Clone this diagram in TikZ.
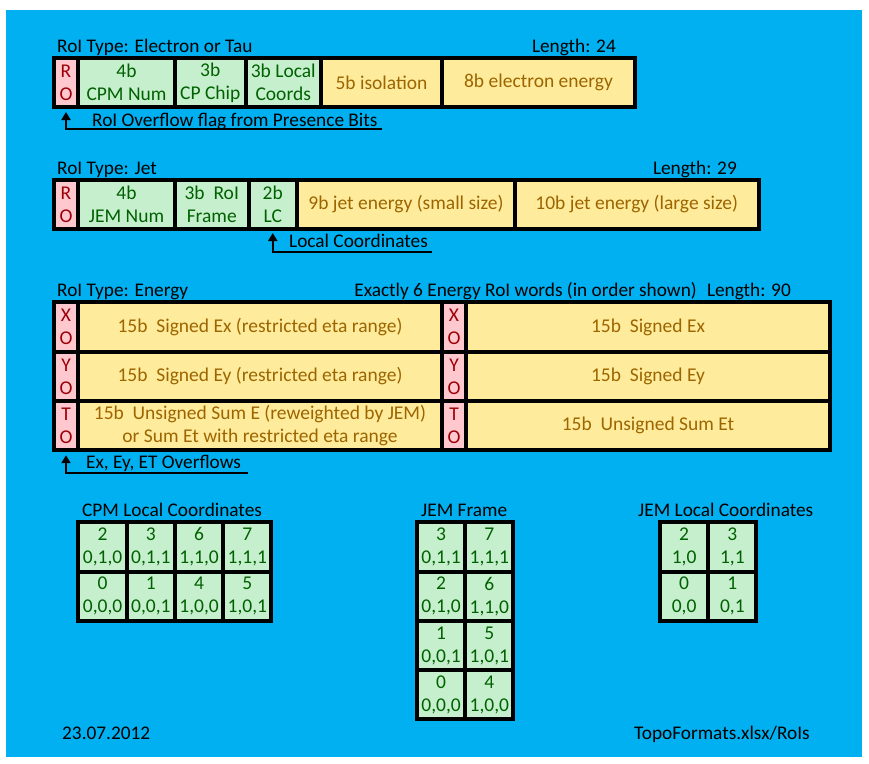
\documentclass[tikz,border=0pt]{standalone}
\usepackage{fontspec}
\setmainfont{Carlito}
\usetikzlibrary{positioning,arrows.meta}

\definecolor{slideblue}{HTML}{00B0F0}
\definecolor{goodfill}{HTML}{C6EFCE}
\definecolor{goodtext}{HTML}{006100}
\definecolor{neutfill}{HTML}{FFEB9C}
\definecolor{neuttext}{HTML}{9C6500}
\definecolor{badfill}{HTML}{FFC7CE}
\definecolor{badtext}{HTML}{9C0006}

\tikzset{
  cell/.style={draw=black, line width=4pt, inner sep=0pt, outer sep=0pt,
    minimum height=49pt, align=center, font=\fontsize{19.5}{23}\selectfont},
  ovfl/.style={cell, fill=badfill, text=badtext, minimum width=24pt},
  good/.style={cell, fill=goodfill, text=goodtext},
  neut/.style={cell, fill=neutfill, text=neuttext},
  bitcell/.style={good, minimum width=48.25pt, minimum height=49.25pt},
  lbl/.style={inner sep=0pt, anchor=base west, font=\fontsize{19.3}{22}\selectfont},
  hint/.style={line width=2pt, -{Triangle[width=9pt,length=8pt]}},
}

\begin{document}
\begin{tikzpicture}[x=1pt,y=-1pt]
  \useasboundingbox (0,0) rectangle (869,763);
  \fill[slideblue] (6,10) rectangle (862,757);

  % Electron / tau word
  \node[lbl] (emtitle) at (57,52) {RoI Type: Electron or Tau};
  \node[lbl, anchor=base east] (emlen) at (616,52) {Length: 24};
  \node[ovfl] (ro1) at (66,82.5) {R\\O};
  \node[good, minimum width=97pt, right=0pt of ro1] (cpmnum) {4b\\CPM Num};
  \node[good, minimum width=70.5pt, right=0pt of cpmnum] (cpchip) {3b\\CP Chip};
  \node[good, minimum width=75.5pt, right=0pt of cpchip] (emlc) {3b Local\\Coords};
  \node[neut, minimum width=121pt, right=0pt of emlc] (emiso) {5b isolation};
  \node[neut, minimum width=193pt, right=0pt of emiso] (emet) {8b electron energy};
  \node[lbl] (ovftxt) at (92,126) {RoI Overflow flag from Presence Bits};
  \coordinate (ovfend) at (382,129);
  \draw[hint, shorten >=5pt] (ovfend) -| (ro1.south);

  % Jet word
  \node[lbl] (jettitle) at (57,174) {RoI Type: Jet};
  \node[lbl, anchor=base east] (jetlen) at (737,174) {Length: 29};
  \node[ovfl] (ro2) at (66,204.5) {R\\O};
  \node[good, minimum width=97pt, right=0pt of ro2] (jemnum) {4b\\JEM Num};
  \node[good, minimum width=73.5pt, right=0pt of jemnum] (frame) {3b~~RoI\\Frame};
  \node[good, minimum width=48.5pt, right=0pt of frame] (jetlc) {2b\\LC};
  \node[neut, minimum width=218pt, right=0pt of jetlc] (small) {9b jet energy (small size)};
  \node[neut, minimum width=243.5pt, right=0pt of small] (large) {10b jet energy (large size)};
  \node[lbl] (lctxt) at (289,247) {Local Coordinates};
  \coordinate (lcend) at (432,252);
  \draw[hint, shorten >=4pt] (lcend) -| (jetlc.south);

  % Energy words
  \node[lbl] (entitle) at (57,296) {RoI Type: Energy};
  \node[lbl, anchor=base east] (ennote) at (697,296) {Exactly 6 Energy RoI words (in order shown)};
  \node[lbl, anchor=base east] (enlen) at (791,296) {Length: 90};
  \node[ovfl, minimum height=49.25pt] (xo1) at (66,327.1) {X\\O};
  \node[ovfl, minimum height=49.25pt, below=0pt of xo1] (yo1) {Y\\O};
  \node[ovfl, minimum height=49.25pt, below=0pt of yo1] (to1) {T\\O};
  \node[neut, minimum width=364pt, minimum height=49.25pt, right=0pt of xo1] (ex1) {15b~~Signed Ex (restricted eta range)};
  \node[neut, minimum width=364pt, minimum height=49.25pt, right=0pt of yo1] (ey1) {15b~~Signed Ey (restricted eta range)};
  \node[neut, minimum width=364pt, minimum height=49.25pt, right=0pt of to1] (et1) {15b~~Unsigned Sum E (reweighted by JEM)\\or Sum Et with restricted eta range};
  \node[ovfl, minimum height=49.25pt, right=0pt of ex1] (xo2) {X\\O};
  \node[ovfl, minimum height=49.25pt, right=0pt of ey1] (yo2) {Y\\O};
  \node[ovfl, minimum height=49.25pt, right=0pt of et1] (to2) {T\\O};
  \node[neut, minimum width=364pt, minimum height=49.25pt, right=0pt of xo2] (ex2) {15b~~Signed Ex};
  \node[neut, minimum width=364pt, minimum height=49.25pt, right=0pt of yo2] (ey2) {15b~~Signed Ey};
  \node[neut, minimum width=364pt, minimum height=49.25pt, right=0pt of to2] (et2) {15b~~Unsigned Sum Et};
  \node[lbl] (eotxt) at (86,468) {Ex, Ey, ET Overflows};
  \coordinate (eoend) at (248,473);
  \draw[hint, shorten >=5pt] (eoend) -| (to1.south);

  % CPM local coordinates
  \node[lbl] (cpmtitle) at (82,516) {CPM Local Coordinates};
  \foreach \col/\row/\num/\bits in {0/0/2/{0,1,0}, 1/0/3/{0,1,1}, 2/0/6/{1,1,0}, 3/0/7/{1,1,1},
                                    0/1/0/{0,0,0}, 1/1/1/{0,0,1}, 2/1/4/{1,0,0}, 3/1/5/{1,0,1}}
    \node[bitcell] (cpm-\col-\row) at ({102.6+48.25*\col},{547.1+49.25*\row}) {\num\\\bits};

  % JEM frame
  \node[lbl] (frtitle) at (421,516) {JEM Frame};
  \foreach \col/\row/\num/\bits in {0/0/3/{0,1,1}, 1/0/7/{1,1,1}, 0/1/2/{0,1,0}, 1/1/6/{1,1,0},
                                    0/2/1/{0,0,1}, 1/2/5/{1,0,1}, 0/3/0/{0,0,0}, 1/3/4/{1,0,0}}
    \node[bitcell] (fr-\col-\row) at ({441.1+48.25*\col},{547.1+49.25*\row}) {\num\\\bits};

  % JEM local coordinates
  \node[lbl] (jltitle) at (638,516) {JEM Local Coordinates};
  \foreach \col/\row/\num/\bits in {0/0/2/{1,0}, 1/0/3/{1,1}, 0/1/0/{0,0}, 1/1/1/{0,1}}
    \node[bitcell] (jl-\col-\row) at ({684.1+48.25*\col},{547.1+49.25*\row}) {\num\\\bits};

  % footer
  \node[lbl] (date) at (62,739) {23.07.2012};
  \node[lbl, anchor=base east] (src) at (810,739) {TopoFormats.xlsx/RoIs};
\end{tikzpicture}
\end{document}
